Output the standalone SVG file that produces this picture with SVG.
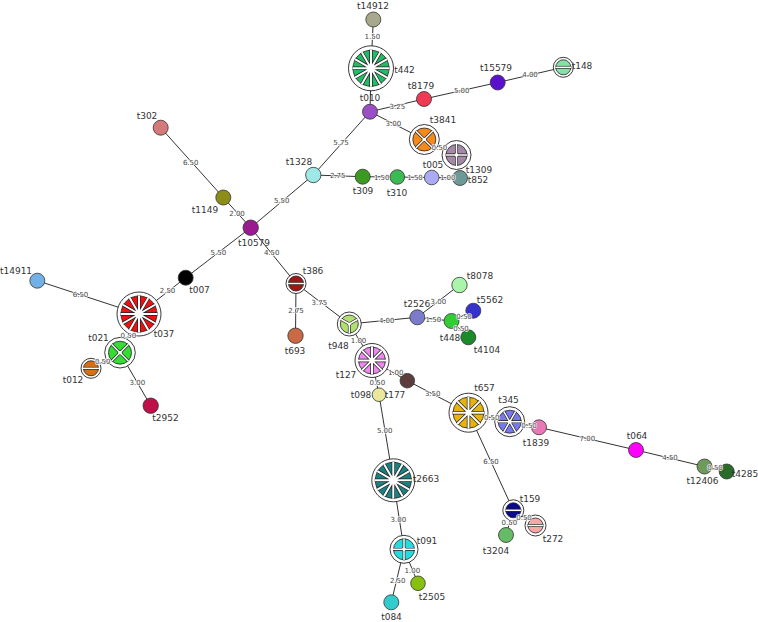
<svg xmlns="http://www.w3.org/2000/svg" xmlns:xlink="http://www.w3.org/1999/xlink" width="758" height="622" viewBox="0 0 758 622">
<style>
.e{stroke:#333;stroke-width:1;fill:none}
.n{stroke:#333;stroke-width:0.8}
.ring{fill:#fff;stroke:#222;stroke-width:0.9}
.pie{stroke:#222;stroke-width:0.8}
.sd{fill:none;stroke:#222;stroke-width:3.4}
.sw{fill:none;stroke:#fff;stroke-width:2}
.sds{fill:none;stroke:#222;stroke-width:2.8}
.sws{fill:none;stroke:#fff;stroke-width:1.5}
.cd{fill:#222}
.cw{fill:#fff}
.nl{font-family:"DejaVu Sans",sans-serif;font-size:9px;fill:#333;text-anchor:middle}
.el{font-family:"DejaVu Sans",sans-serif;font-size:7px;fill:#444;text-anchor:middle;stroke:#fff;stroke-width:1.3;paint-order:stroke;stroke-linejoin:round}
</style>
<defs>
<path id="sp12" d="M-18.5 0L18.5 0M-16.02 -9.25L16.02 9.25M-9.25 -16.02L9.25 16.02M0 -18.5L0 18.5M9.25 -16.02L-9.25 16.02M16.02 -9.25L-16.02 9.25"/>
<path id="sp8a" d="M-14 0L14 0M-9.9 -9.9L9.9 9.9M0 -14L0 14M9.9 -9.9L-9.9 9.9"/>
<path id="sp8b" d="M-16 0L16 0M-11.31 -11.31L11.31 11.31M0 -16L0 16M11.31 -11.31L-11.31 11.31"/>
<path id="sp6" d="M-12 0L12 0M-6 -10.39L6 10.39M6 -10.39L-6 10.39"/>
<path id="sp4p" d="M-11 0L11 0M0 -11L0 11"/>
<path id="sp4x" d="M-8.49 -8.49L8.49 8.49M8.49 -8.49L-8.49 8.49"/>
<path id="sp3" d="M0 0L-8.23 -4.75M0 0L8.23 -4.75M0 0L0 9.5"/>
<path id="sp2" d="M-8 0L8 0"/>
</defs>
<rect width="758" height="622" fill="#fff"/>
<g id="connectors">
<line class="e" x1="373.3" y1="19.5" x2="371" y2="68.3"/>
<line class="e" x1="371" y1="68.3" x2="370" y2="111.7"/>
<line class="e" x1="370" y1="111.7" x2="424" y2="99"/>
<line class="e" x1="424" y1="99" x2="497.7" y2="82.5"/>
<line class="e" x1="497.7" y1="82.5" x2="563.3" y2="67.3"/>
<line class="e" x1="370" y1="111.7" x2="424.3" y2="139.5"/>
<line class="e" x1="424.3" y1="139.5" x2="456.5" y2="155"/>
<line class="e" x1="370" y1="111.7" x2="313.3" y2="175"/>
<line class="e" x1="313.3" y1="175" x2="362.7" y2="176.7"/>
<line class="e" x1="362.7" y1="176.7" x2="397.3" y2="177"/>
<line class="e" x1="397.3" y1="177" x2="431.7" y2="177.5"/>
<line class="e" x1="431.7" y1="177.5" x2="460" y2="178"/>
<line class="e" x1="313.3" y1="175" x2="250.7" y2="227.7"/>
<line class="e" x1="250.7" y1="227.7" x2="223.3" y2="197.5"/>
<line class="e" x1="223.3" y1="197.5" x2="160.7" y2="127.7"/>
<line class="e" x1="250.7" y1="227.7" x2="185.7" y2="277.7"/>
<line class="e" x1="185.7" y1="277.7" x2="139" y2="314"/>
<line class="e" x1="139" y1="314" x2="37.3" y2="280.7"/>
<line class="e" x1="139" y1="314" x2="120" y2="352.7"/>
<line class="e" x1="120" y1="352.7" x2="91" y2="368.3"/>
<line class="e" x1="120" y1="352.7" x2="150.7" y2="405.7"/>
<line class="e" x1="250.7" y1="227.7" x2="296" y2="283.5"/>
<line class="e" x1="296" y1="283.5" x2="295.5" y2="335.7"/>
<line class="e" x1="296" y1="283.5" x2="349.3" y2="324"/>
<line class="e" x1="349.3" y1="324" x2="417.3" y2="317.3"/>
<line class="e" x1="417.3" y1="317.3" x2="459.5" y2="285"/>
<line class="e" x1="417.3" y1="317.3" x2="451.5" y2="321"/>
<line class="e" x1="451.5" y1="321" x2="473.3" y2="310.7"/>
<line class="e" x1="451.5" y1="321" x2="468.3" y2="337.3"/>
<line class="e" x1="349.3" y1="324" x2="372" y2="360.5"/>
<line class="e" x1="372" y1="360.5" x2="407.3" y2="380.7"/>
<line class="e" x1="372" y1="360.5" x2="379" y2="394.7"/>
<line class="e" x1="407.3" y1="380.7" x2="468.5" y2="412.7"/>
<line class="e" x1="468.5" y1="412.7" x2="509.7" y2="421.7"/>
<line class="e" x1="509.7" y1="421.7" x2="539" y2="427.3"/>
<line class="e" x1="539" y1="427.3" x2="636" y2="450"/>
<line class="e" x1="636" y1="450" x2="704.5" y2="466.5"/>
<line class="e" x1="704.5" y1="466.5" x2="726.7" y2="471.5"/>
<line class="e" x1="468.5" y1="412.7" x2="513.3" y2="510.3"/>
<line class="e" x1="513.3" y1="510.3" x2="535.5" y2="525.5"/>
<line class="e" x1="513.3" y1="510.3" x2="506" y2="535"/>
<line class="e" x1="379" y1="394.7" x2="393.3" y2="480.3"/>
<line class="e" x1="393.3" y1="480.3" x2="404" y2="549.3"/>
<line class="e" x1="404" y1="549.3" x2="418" y2="583.3"/>
<line class="e" x1="404" y1="549.3" x2="391.3" y2="602.3"/>
</g>
<g id="nodes">
<g id="t14912"><circle class="n" cx="373.3" cy="19.5" r="7.5" fill="#a8a88c"/><text class="nl" x="373" y="9">t14912</text></g>
<g id="t442"><g transform="translate(371,68.3)"><circle class="ring" r="22.5"/><circle class="pie" r="18" fill="#22bb66"/><use href="#sp12" class="sd"/><circle class="cd" r="3.2"/><use href="#sp12" class="sw"/><circle class="cw" r="2.4"/></g><text class="nl" x="404.5" y="72.5">t442</text></g>
<g id="t010"><circle class="n" cx="370" cy="111.7" r="7.5" fill="#9b4fc4"/><text class="nl" x="370" y="101">t010</text></g>
<g id="t8179"><circle class="n" cx="424" cy="99" r="7.5" fill="#ee3a55"/><text class="nl" x="421" y="88.5">t8179</text></g>
<g id="t15579"><circle class="n" cx="497.7" cy="82.5" r="7.5" fill="#5a10cc"/><text class="nl" x="496" y="71">t15579</text></g>
<g id="t148"><g transform="translate(563.3,67.3)"><circle class="ring" r="10"/><circle class="pie" r="7.5" fill="#88e0a8"/><use href="#sp2" class="sds"/><use href="#sp2" class="sws"/></g><text class="nl" x="582" y="69">t148</text></g>
<g id="t3841"><g transform="translate(424.3,139.5)"><circle class="ring" r="15"/><circle class="pie" r="11.5" fill="#f5891a"/><use href="#sp4x" class="sds"/><circle class="cd" r="2.4"/><use href="#sp4x" class="sws"/><circle class="cw" r="1.8"/></g><text class="nl" x="443" y="122.5">t3841</text></g>
<g id="t1309"><g transform="translate(456.5,155)"><circle class="ring" r="14.5"/><circle class="pie" r="10.5" fill="#a587a8"/><use href="#sp4p" class="sds"/><circle class="cd" r="2.4"/><use href="#sp4p" class="sws"/><circle class="cw" r="1.8"/></g><text class="nl" x="479" y="173">t1309</text></g>
<g id="t005"><circle class="n" cx="431.7" cy="177.5" r="7.3" fill="#aaaaf5"/><text class="nl" x="433" y="167.5">t005</text></g>
<g id="t852"><circle class="n" cx="460" cy="178" r="7.5" fill="#6c9a98"/><text class="nl" x="478" y="183">t852</text></g>
<g id="t310"><circle class="n" cx="397.3" cy="177" r="7.3" fill="#3cbb55"/><text class="nl" x="397" y="195.5">t310</text></g>
<g id="t309"><circle class="n" cx="362.7" cy="176.7" r="7.5" fill="#3c9a22"/><text class="nl" x="363" y="194">t309</text></g>
<g id="t1328"><circle class="n" cx="313.3" cy="175" r="7.7" fill="#a0e8e8"/><text class="nl" x="299" y="165">t1328</text></g>
<g id="t10579"><circle class="n" cx="250.7" cy="227.7" r="7.7" fill="#9a1a90"/><text class="nl" x="254" y="246">t10579</text></g>
<g id="t1149"><circle class="n" cx="223.3" cy="197.5" r="7.5" fill="#8c8c18"/><text class="nl" x="205" y="212.5">t1149</text></g>
<g id="t302"><circle class="n" cx="160.7" cy="127.7" r="7.5" fill="#d47a7a"/><text class="nl" x="147" y="118.5">t302</text></g>
<g id="t007"><circle class="n" cx="185.7" cy="277.7" r="7.5" fill="#000"/><text class="nl" x="199.5" y="292.5">t007</text></g>
<g id="t037"><g transform="translate(139,314)"><circle class="ring" r="22"/><circle class="pie" r="18" fill="#ee1111"/><use href="#sp12" class="sd"/><circle class="cd" r="3.2"/><use href="#sp12" class="sw"/><circle class="cw" r="2.4"/></g><text class="nl" x="164" y="336.5">t037</text></g>
<g id="t14911"><circle class="n" cx="37.3" cy="280.7" r="7.5" fill="#73b0e6"/><text class="nl" x="16" y="274">t14911</text></g>
<g id="t021"><g transform="translate(120,352.7)"><circle class="ring" r="15.3"/><circle class="pie" r="11.5" fill="#33dd33"/><use href="#sp4x" class="sds"/><circle class="cd" r="2.4"/><use href="#sp4x" class="sws"/><circle class="cw" r="1.8"/></g><text class="nl" x="98.5" y="340.5">t021</text></g>
<g id="t012"><g transform="translate(91,368.3)"><circle class="ring" r="10"/><circle class="pie" r="7.5" fill="#d87010"/><use href="#sp2" class="sds"/><use href="#sp2" class="sws"/></g><text class="nl" x="73" y="382.5">t012</text></g>
<g id="t2952"><circle class="n" cx="150.7" cy="405.7" r="7.7" fill="#c0104a"/><text class="nl" x="165.5" y="421">t2952</text></g>
<g id="t386"><g transform="translate(296,283.5)"><circle class="ring" r="10"/><circle class="pie" r="7.5" fill="#a01515"/><use href="#sp2" class="sds"/><use href="#sp2" class="sws"/></g><text class="nl" x="313" y="274">t386</text></g>
<g id="t693"><circle class="n" cx="295.5" cy="335.7" r="7.7" fill="#c86a45"/><text class="nl" x="295" y="353.5">t693</text></g>
<g id="t948"><g transform="translate(349.3,324)"><circle class="ring" r="12"/><circle class="pie" r="9" fill="#b0e070"/><use href="#sp3" class="sds"/><circle class="cd" r="2"/><use href="#sp3" class="sws"/><circle class="cw" r="1.5"/></g><text class="nl" x="338.5" y="348.5">t948</text></g>
<g id="t2526"><circle class="n" cx="417.3" cy="317.3" r="7.5" fill="#7b7bcc"/><text class="nl" x="417" y="306.5">t2526</text></g>
<g id="t8078"><circle class="n" cx="459.5" cy="285" r="7.7" fill="#aaf5aa"/><text class="nl" x="480" y="278.5">t8078</text></g>
<g id="t5562"><circle class="n" cx="473.3" cy="310.7" r="7.5" fill="#3333cc"/><text class="nl" x="490" y="302.5">t5562</text></g>
<g id="t448"><circle class="n" cx="451.5" cy="321" r="7.5" fill="#33cc33"/><text class="nl" x="450" y="340.5">t448</text></g>
<g id="t4104"><circle class="n" cx="468.3" cy="337.3" r="7.5" fill="#1a8a2a"/><text class="nl" x="487" y="352.5">t4104</text></g>
<g id="t127"><g transform="translate(372,360.5)"><circle class="ring" r="17"/><circle class="pie" r="13.5" fill="#ee88ee"/><use href="#sp8a" class="sd"/><circle class="cd" r="3"/><use href="#sp8a" class="sw"/><circle class="cw" r="2.2"/></g><text class="nl" x="346" y="377.5">t127</text></g>
<g id="t177"><circle class="n" cx="407.3" cy="380.7" r="7.3" fill="#5c3c3c"/><text class="nl" x="395" y="397.5">t177</text></g>
<g id="t098"><circle class="n" cx="379" cy="394.7" r="6.8" fill="#ebe89c"/><text class="nl" x="361" y="398">t098</text></g>
<g id="t657"><g transform="translate(468.5,412.7)"><circle class="ring" r="19.5"/><circle class="pie" r="15.5" fill="#e8b40c"/><use href="#sp8b" class="sd"/><circle class="cd" r="3.2"/><use href="#sp8b" class="sw"/><circle class="cw" r="2.4"/></g><text class="nl" x="484.5" y="390.5">t657</text></g>
<g id="t345"><g transform="translate(509.7,421.7)"><circle class="ring" r="15"/><circle class="pie" r="11.5" fill="#7878ee"/><use href="#sp6" class="sds"/><circle class="cd" r="2.4"/><use href="#sp6" class="sws"/><circle class="cw" r="1.8"/></g><text class="nl" x="508.5" y="402.5">t345</text></g>
<g id="t1839"><circle class="n" cx="539" cy="427.3" r="7.5" fill="#e878b8"/><text class="nl" x="536" y="445.5">t1839</text></g>
<g id="t064"><circle class="n" cx="636" cy="450" r="7.5" fill="#ff00ff"/><text class="nl" x="637" y="438.5">t064</text></g>
<g id="t12406"><circle class="n" cx="704.5" cy="466.5" r="7.5" fill="#6e9a5a"/><text class="nl" x="702.5" y="484">t12406</text></g>
<g id="t4285"><circle class="n" cx="726.7" cy="471.5" r="7.5" fill="#2a6a2a"/><text class="nl" x="745" y="477">t4285</text></g>
<g id="t2663"><g transform="translate(393.3,480.3)"><circle class="ring" r="21.5"/><circle class="pie" r="18" fill="#1a8080"/><use href="#sp12" class="sd"/><circle class="cd" r="3.2"/><use href="#sp12" class="sw"/><circle class="cw" r="2.4"/></g><text class="nl" x="426" y="481.5">t2663</text></g>
<g id="t091"><g transform="translate(404,549.3)"><circle class="ring" r="14"/><circle class="pie" r="10.5" fill="#22dddd"/><use href="#sp4p" class="sds"/><circle class="cd" r="2.4"/><use href="#sp4p" class="sws"/><circle class="cw" r="1.8"/></g><text class="nl" x="427" y="544">t091</text></g>
<g id="t2505"><circle class="n" cx="418" cy="583.3" r="7.3" fill="#88c012"/><text class="nl" x="432" y="600">t2505</text></g>
<g id="t084"><circle class="n" cx="391.3" cy="602.3" r="7.5" fill="#33cccc"/><text class="nl" x="391.5" y="620">t084</text></g>
<g id="t159"><g transform="translate(513.3,510.3)"><circle class="ring" r="10.5"/><circle class="pie" r="7.5" fill="#0c0c88"/><use href="#sp2" class="sds"/><use href="#sp2" class="sws"/></g><text class="nl" x="530" y="501.5">t159</text></g>
<g id="t272"><g transform="translate(535.5,525.5)"><circle class="ring" r="10.5"/><circle class="pie" r="7.5" fill="#f8a8a8"/><use href="#sp2" class="sds"/><use href="#sp2" class="sws"/></g><text class="nl" x="553" y="541.5">t272</text></g>
<g id="t3204"><circle class="n" cx="506" cy="535" r="7.5" fill="#66bb66"/><text class="nl" x="496" y="553.5">t3204</text></g>
</g>
<g id="edge-labels">
<text class="el" x="372.3" y="39">1.50</text>
<text class="el" x="397.3" y="108.5">3.25</text>
<text class="el" x="461.7" y="92.7">5.00</text>
<text class="el" x="530" y="77">4.00</text>
<text class="el" x="393.3" y="126">3.00</text>
<text class="el" x="439.3" y="149.7">0.50</text>
<text class="el" x="341" y="145">5.75</text>
<text class="el" x="337.7" y="178.4">2.75</text>
<text class="el" x="381.7" y="179.7">1.50</text>
<text class="el" x="415" y="180">1.50</text>
<text class="el" x="447.7" y="179.5">1.00</text>
<text class="el" x="281.7" y="203">5.50</text>
<text class="el" x="237" y="215.5">2.00</text>
<text class="el" x="190.7" y="165">6.50</text>
<text class="el" x="218.3" y="255">5.50</text>
<text class="el" x="167.5" y="293.3">2.50</text>
<text class="el" x="80.5" y="297">6.50</text>
<text class="el" x="128.3" y="338">0.50</text>
<text class="el" x="102.7" y="363.7">0.50</text>
<text class="el" x="137.3" y="384.7">3.00</text>
<text class="el" x="271.7" y="255">4.50</text>
<text class="el" x="296" y="312.7">2.75</text>
<text class="el" x="319.3" y="305">3.75</text>
<text class="el" x="386.7" y="323">4.00</text>
<text class="el" x="438.3" y="304">3.00</text>
<text class="el" x="433.3" y="322.4">1.50</text>
<text class="el" x="464" y="319">0.50</text>
<text class="el" x="461" y="331">0.50</text>
<text class="el" x="358.5" y="343">1.00</text>
<text class="el" x="395.7" y="375">1.00</text>
<text class="el" x="377.3" y="385">0.50</text>
<text class="el" x="432.7" y="395.7">3.50</text>
<text class="el" x="491.7" y="420">0.50</text>
<text class="el" x="529" y="427.7">0.50</text>
<text class="el" x="587.3" y="441.4">7.00</text>
<text class="el" x="670" y="460">4.50</text>
<text class="el" x="715" y="470">0.50</text>
<text class="el" x="384.7" y="433.3">5.00</text>
<text class="el" x="398.3" y="521.7">3.00</text>
<text class="el" x="412.3" y="572.7">1.00</text>
<text class="el" x="397.7" y="582.7">2.50</text>
<text class="el" x="491" y="464">6.50</text>
<text class="el" x="524" y="520">0.50</text>
<text class="el" x="509.3" y="525">0.50</text>
</g>
</svg>
